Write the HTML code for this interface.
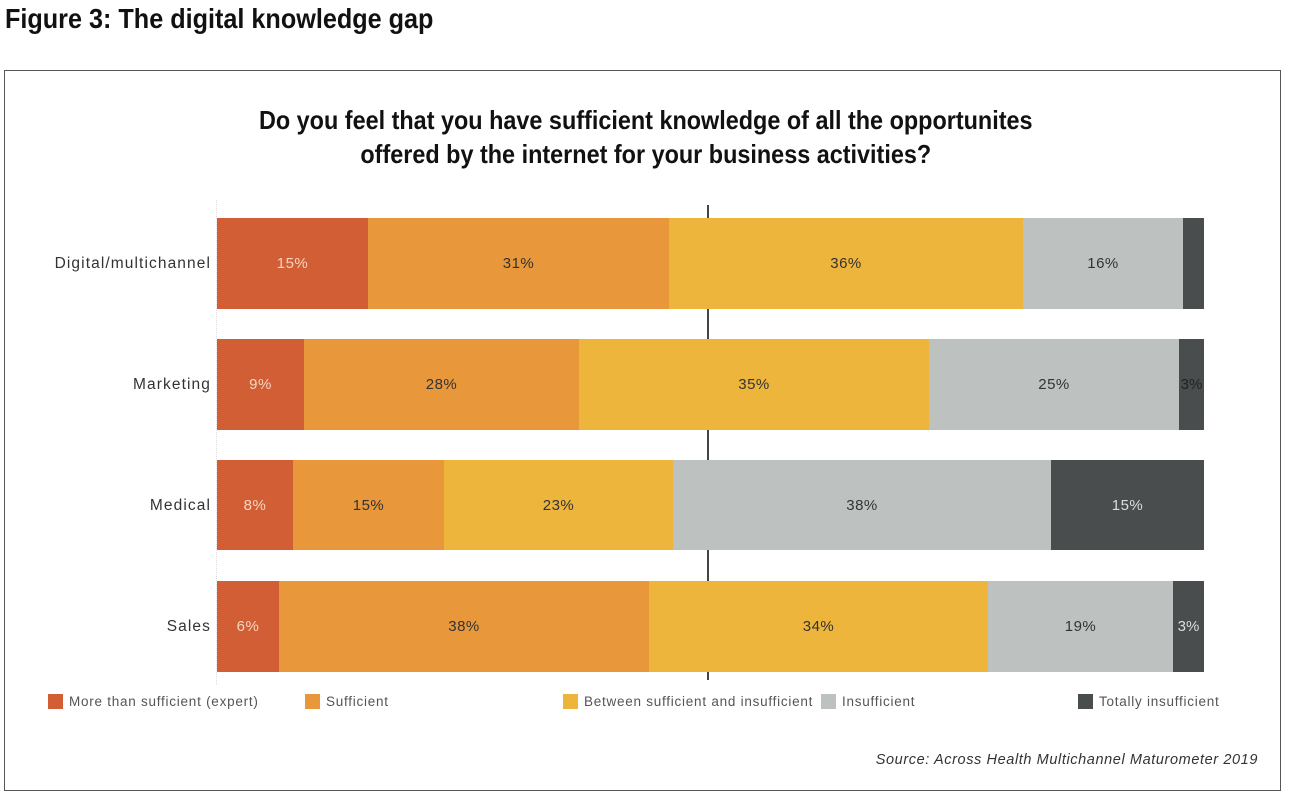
<!DOCTYPE html>
<html><head><meta charset="utf-8"><style>
body{margin:0;width:1291px;height:798px;background:#fff;position:relative;overflow:hidden;font-family:"Liberation Sans",sans-serif}
.a{position:absolute}
.title{left:5px;top:3px;font-size:28px;font-weight:bold;color:#111;transform:scaleX(0.9);transform-origin:left top}
.box{left:4px;top:70px;width:1277px;height:721px;border:1.5px solid #555;box-sizing:border-box}
.q{left:0;width:1291px;top:103px;text-align:center;font-size:26px;font-weight:bold;line-height:34px;color:#111}
.q span{display:inline-block;transform:scaleX(0.9)}
.seg{position:absolute;top:0;height:100%;display:flex;align-items:center;justify-content:center;font-size:15px;letter-spacing:0.5px;color:#333;box-sizing:border-box}
.row{position:absolute;left:217px;height:91px}
.lab{position:absolute;right:1080px;font-size:15.5px;letter-spacing:1.1px;color:#333;text-align:right}
.lg{position:absolute;top:694px;font-size:13.5px;letter-spacing:0.75px;color:#555;display:flex;align-items:center}
.lg i{display:inline-block;width:15px;height:15px;margin-right:6px}
</style></head><body>
<div class="a title">Figure 3: The digital knowledge gap</div>
<div class="a box"></div>
<div class="a q"><span>Do you feel that you have sufficient knowledge of all the opportunites<br>offered by the internet for your business activities?</span></div>
<div class="a" style="left:216px;top:200px;width:1px;height:485px;border-left:1px dotted #ddd"></div>
<div class="a" style="left:707px;top:205px;width:2px;height:475px;background:#444"></div>

<div class="lab" style="top:255px">Digital/multichannel</div>
<div class="row" style="top:218px">
<div class="seg" style="left:0;width:151px;background:#D15E34;color:#f6d5c0">15%</div>
<div class="seg" style="left:151px;width:301px;background:#E8973A">31%</div>
<div class="seg" style="left:452px;width:354px;background:#EEB53C">36%</div>
<div class="seg" style="left:806px;width:160px;background:#BDC2C0">16%</div>
<div class="seg" style="left:966px;width:21px;background:#4A4D4E"></div>
</div>

<div class="lab" style="top:376px">Marketing</div>
<div class="row" style="top:339px">
<div class="seg" style="left:0;width:87px;background:#D15E34;color:#f6d5c0">9%</div>
<div class="seg" style="left:87px;width:275px;background:#E8973A">28%</div>
<div class="seg" style="left:362px;width:350px;background:#EEB53C">35%</div>
<div class="seg" style="left:712px;width:250px;background:#BDC2C0">25%</div>
<div class="seg" style="left:962px;width:25px;background:#4A4D4E;color:#222;letter-spacing:0">3%</div>
</div>

<div class="lab" style="top:497px">Medical</div>
<div class="row" style="top:460px;height:90px">
<div class="seg" style="left:0;width:76px;background:#D15E34;color:#f6d5c0">8%</div>
<div class="seg" style="left:76px;width:151px;background:#E8973A">15%</div>
<div class="seg" style="left:227px;width:229px;background:#EEB53C">23%</div>
<div class="seg" style="left:456px;width:378px;background:#BDC2C0">38%</div>
<div class="seg" style="left:834px;width:153px;background:#4A4D4E;color:#ddd">15%</div>
</div>

<div class="lab" style="top:618px">Sales</div>
<div class="row" style="top:581px">
<div class="seg" style="left:0;width:62px;background:#D15E34;color:#f6d5c0">6%</div>
<div class="seg" style="left:62px;width:370px;background:#E8973A">38%</div>
<div class="seg" style="left:432px;width:339px;background:#EEB53C">34%</div>
<div class="seg" style="left:771px;width:185px;background:#BDC2C0">19%</div>
<div class="seg" style="left:956px;width:31px;background:#4A4D4E;color:#ddd;letter-spacing:0">3%</div>
</div>

<div class="lg" style="left:48px"><i style="background:#D15E34"></i>More than sufficient (expert)</div>
<div class="lg" style="left:305px"><i style="background:#E8973A"></i>Sufficient</div>
<div class="lg" style="left:563px"><i style="background:#EEB53C"></i>Between sufficient and insufficient</div>
<div class="lg" style="left:821px"><i style="background:#BDC2C0"></i>Insufficient</div>
<div class="lg" style="left:1078px"><i style="background:#4A4D4E"></i>Totally insufficient</div>

<div class="a" style="right:33px;top:752px;font-size:14.5px;letter-spacing:0.6px;font-style:italic;color:#333">Source: Across Health Multichannel Maturometer 2019</div>
</body></html>
